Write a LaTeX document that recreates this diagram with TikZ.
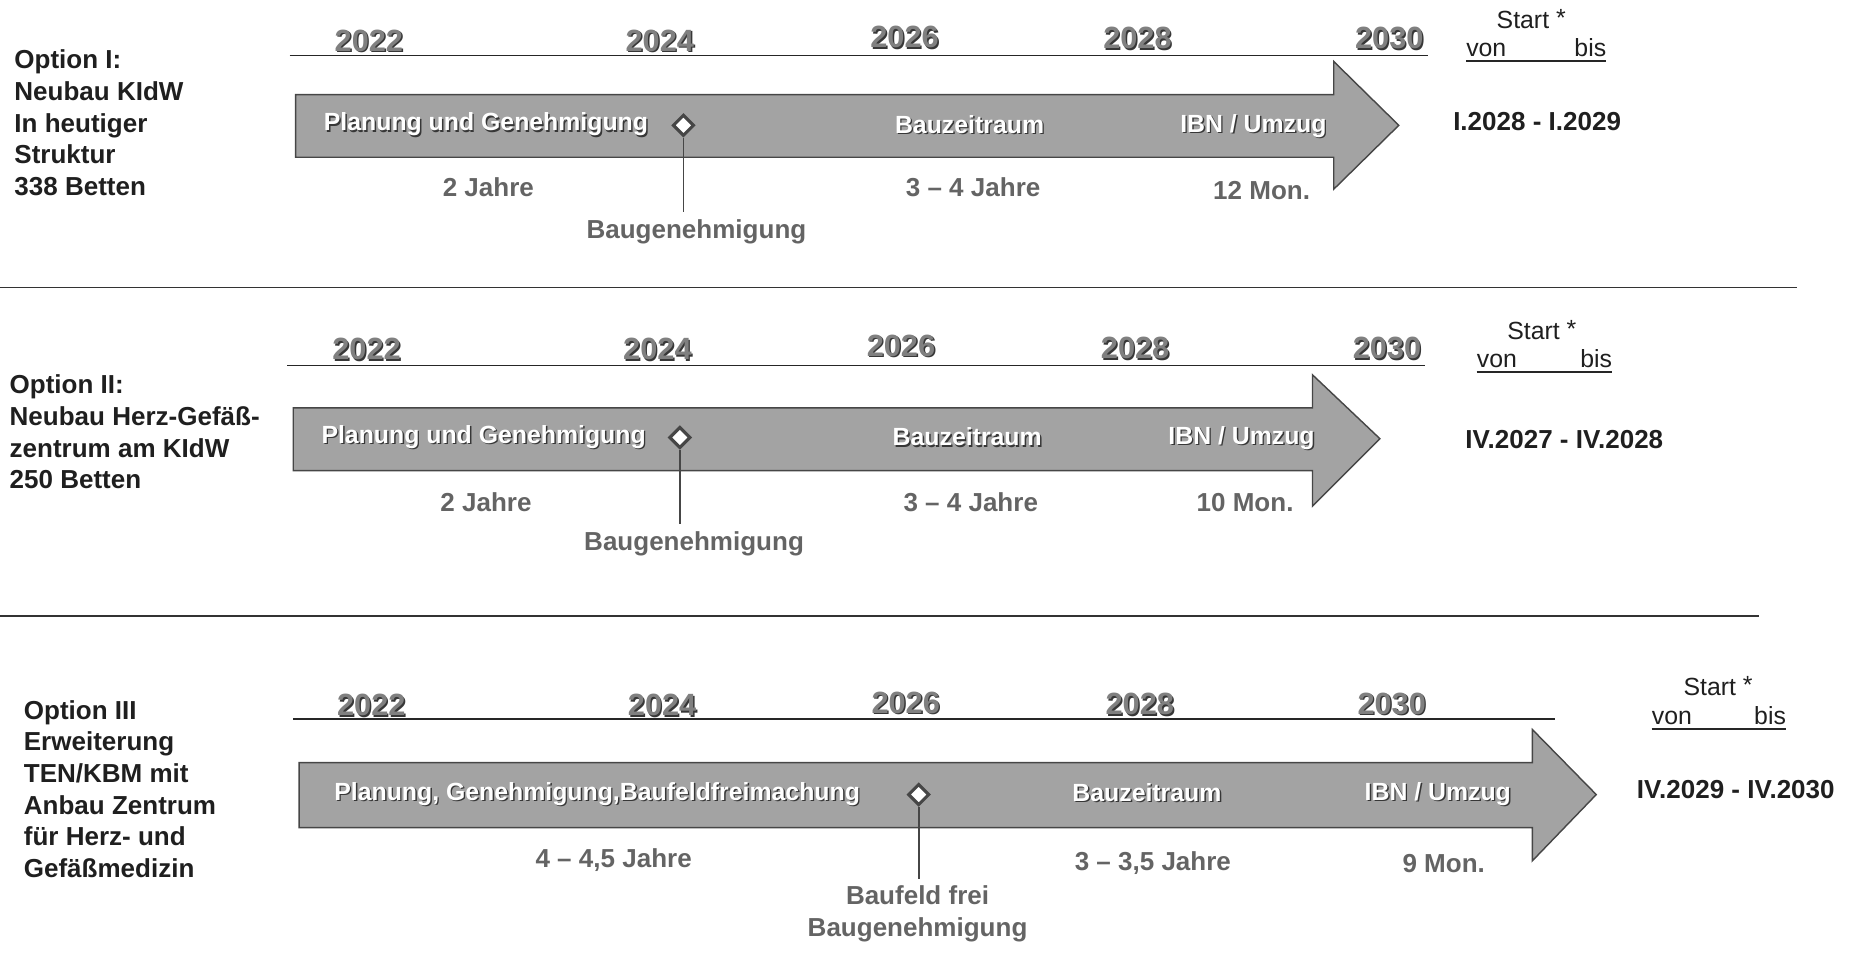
\documentclass[tikz,border=0pt]{standalone}
\usepackage{fontspec}
\setmainfont{Liberation Sans}
\usetikzlibrary{shapes.geometric}

\definecolor{barfill}{RGB}{163,163,163}
\definecolor{baredge}{RGB}{70,70,70}
\definecolor{yeargray}{RGB}{128,128,128}
\definecolor{labelgray}{RGB}{100,100,100}
\definecolor{shade}{RGB}{55,55,55}

% text with a small dark drop shadow
\newcommand{\shadowed}[2]{\leavevmode\rlap{\kern1.2pt\raisebox{-1.2pt}{\color{#1}#2}}#2}

\begin{document}
\begin{tikzpicture}[x=1pt,y=-1pt,
option/.style={anchor=north west,align=left,inner sep=0pt,text=black!88,font=\fontsize{22}{26.8}\selectfont\bfseries},
year/.style={inner sep=0pt,text=yeargray,font=\fontsize{26}{26}\selectfont\bfseries},
axis/.style={line width=1.4pt,black!85},
bar/.style={fill=barfill,draw=baredge,line width=1.2pt,line join=miter},
phase/.style={inner sep=0pt,text=white,font=\fontsize{21}{21}\selectfont\bfseries},
span/.style={inner sep=0pt,text=labelgray,align=center,font=\fontsize{22}{27}\selectfont\bfseries},
milestone/.style={diamond,draw=baredge,line width=2.6pt,fill=white,minimum size=18pt,inner sep=0pt},
marker/.style={line width=1.5pt,baredge,shorten >=6pt},
start/.style={inner sep=0pt,text=black!88,font=\fontsize{21}{21}\selectfont},
vonbis/.style={start,anchor=base},
uline/.style={line width=1.3pt,black!85},
date/.style={inner sep=0pt,text=black!88,font=\fontsize{22}{22}\selectfont\bfseries},
divider/.style={line width=1.2pt,black!80}]

\useasboundingbox (0,0) rectangle (1568,806);

% Option I
\node[option] (opt1) at (12,42) {Option I:\\Neubau KIdW\\In heutiger\\Struktur\\338 Betten};
\draw (312,35) node[year] (y22a) {\shadowed{shade}{2022}};
\draw (558,35) node[year] (y24a) {\shadowed{shade}{2024}};
\draw (765,32) node[year] (y26a) {\shadowed{shade}{2026}};
\draw (962,33) node[year] (y28a) {\shadowed{shade}{2028}};
\draw (1175,33) node[year] (y30a) {\shadowed{shade}{2030}};
\draw[axis] (245,47) -- (1208,47);
\draw[bar] (250,80) -- (1128,80) -- (1128,52) -- (1183,106) -- (1128,160) -- (1128,133) -- (250,133) -- cycle;
\draw (411,106) node[phase] (p1) {\shadowed{shade}{Planung und Genehmigung}};
\draw (578,106) node[milestone] (m1) {};
\draw (820,106) node[phase] (b1) {\shadowed{shade}{Bauzeitraum}};
\draw (1060,107) node[phase] (u1) {\shadowed{shade}{IBN / Umzug}};
\draw (413,158) node[span] (d1) {2 Jahre};
\draw (823,158) node[span] (e1) {3 – 4 Jahre};
\draw (1067,161) node[span] (f1) {12 Mon.};
\draw (589,196) node[span] (bg1) {Baugenehmigung};
\draw[marker] (m1.south) -- (m1.south |- bg1.north);
\draw (1295,16) node[start] (s1) {Start \raisebox{1.5pt}{*}};
\draw (1257,48) node[vonbis] (v1) {von};
\draw (1345,48) node[vonbis] (w1) {bis};
\draw[uline] ([yshift=-3pt]v1.south west) -- ([yshift=-3pt]w1.south east);
\draw (1300,103) node[date] (r1) {I.2028 - I.2029};
\draw[divider] (0,243) -- (1520,243);

% Option II
\node[option] (opt2) at (8,317) {Option II:\\Neubau Herz-Gefäß-\\zentrum am KIdW\\250 Betten};
\draw (310,296) node[year] (y22b) {\shadowed{shade}{2022}};
\draw (556,296) node[year] (y24b) {\shadowed{shade}{2024}};
\draw (762,293) node[year] (y26b) {\shadowed{shade}{2026}};
\draw (960,295) node[year] (y28b) {\shadowed{shade}{2028}};
\draw (1173,295) node[year] (y30b) {\shadowed{shade}{2030}};
\draw[axis] (243,309) -- (1205,309);
\draw[bar] (248,345) -- (1110,345) -- (1110,317) -- (1167,371) -- (1110,428) -- (1110,398) -- (248,398) -- cycle;
\draw (409,370) node[phase] (p2) {\shadowed{shade}{Planung und Genehmigung}};
\draw (575,370) node[milestone] (m2) {};
\draw (818,370) node[phase] (b2) {\shadowed{shade}{Bauzeitraum}};
\draw (1050,371) node[phase] (u2) {\shadowed{shade}{IBN / Umzug}};
\draw (411,425) node[span] (d2) {2 Jahre};
\draw (821,425) node[span] (e2) {3 – 4 Jahre};
\draw (1053,425) node[span] (f2) {10 Mon.};
\draw (587,460) node[span] (bg2) {Baugenehmigung};
\draw[marker] (m2.south) -- (m2.south |- bg2.north);
\draw (1304,279) node[start] (s2) {Start \raisebox{1.5pt}{*}};
\draw (1266,311) node[vonbis] (v2) {von};
\draw (1350,311) node[vonbis] (w2) {bis};
\draw[uline] ([yshift=-3pt]v2.south west) -- ([yshift=-3pt]w2.south east);
\draw (1323,372) node[date] (r2) {IV.2027 - IV.2028};
\draw[divider] (0,521) -- (1488,521);

% Option III
\node[option] (opt3) at (20,592) {Option III\\Erweiterung\\TEN/KBM mit\\Anbau Zentrum\\für Herz- und\\Gefäßmedizin};
\draw (314,597) node[year] (y22c) {\shadowed{shade}{2022}};
\draw (560,597) node[year] (y24c) {\shadowed{shade}{2024}};
\draw (766,595) node[year] (y26c) {\shadowed{shade}{2026}};
\draw (964,596) node[year] (y28c) {\shadowed{shade}{2028}};
\draw (1177,596) node[year] (y30c) {\shadowed{shade}{2030}};
\draw[axis] (248,608) -- (1315,608);
\draw[bar] (253,645) -- (1296,645) -- (1296,617) -- (1350,672) -- (1296,728) -- (1296,700) -- (253,700) -- cycle;
\draw (505,672) node[phase] (p3) {\shadowed{shade}{Planung, Genehmigung,Baufeldfreimachung}};
\draw (777,672) node[milestone] (m3) {};
\draw (970,671) node[phase] (b3) {\shadowed{shade}{Bauzeitraum}};
\draw (1216,672) node[phase] (u3) {\shadowed{shade}{IBN / Umzug}};
\draw (519,727) node[span] (d3) {4 – 4,5 Jahre};
\draw (975,730) node[span] (e3) {3 – 3,5 Jahre};
\draw (1221,730) node[span] (f3) {9 Mon.};
\draw (776,773) node[span] (bf3) {Baufeld frei\\Baugenehmigung};
\draw[marker] (m3.south) -- (m3.south |- bf3.north);
\draw (1453,580) node[start] (s3) {Start \raisebox{1.5pt}{*}};
\draw (1414,613) node[vonbis] (v3) {von};
\draw (1497,613) node[vonbis] (w3) {bis};
\draw[uline] ([yshift=-3pt]v3.south west) -- ([yshift=-3pt]w3.south east);
\draw (1468,668) node[date] (r3) {IV.2029 - IV.2030};

\end{tikzpicture}
\end{document}
